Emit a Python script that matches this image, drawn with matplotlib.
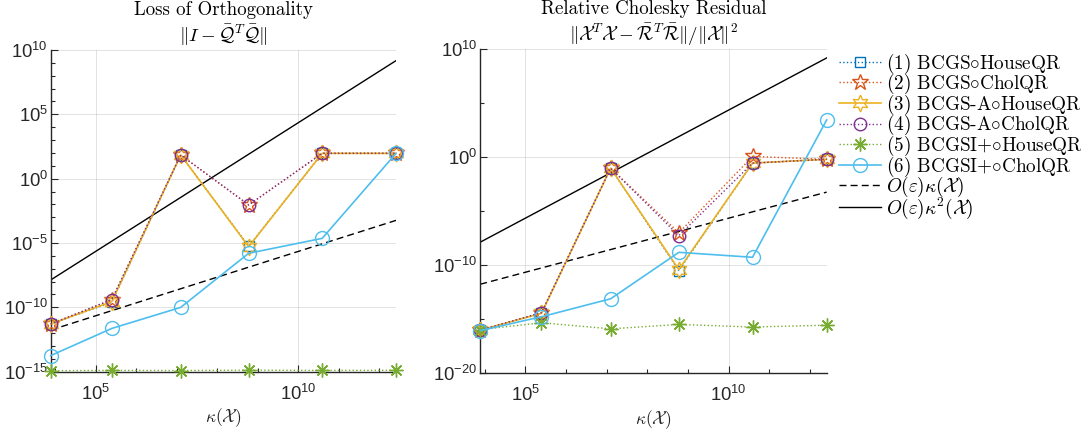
import numpy as np
import matplotlib.pyplot as plt
from matplotlib.ticker import FixedLocator, NullFormatter, LogFormatterSciNotation
from matplotlib.font_manager import FontProperties

plt.rcParams['font.family'] = ['Liberation Sans', 'DejaVu Sans']

# condition numbers of the test matrices
kappa = [7.8e3, 2.5e5, 1.26e7, 6.0e8, 3.9e10, 2.6e12]

# reference slopes O(eps)kappa and O(eps)kappa^2
ref_k1 = [1.73e-12, 5.55e-11, 2.80e-9, 1.33e-7, 8.66e-6, 5.77e-4]
ref_k2 = [1.35e-8, 1.39e-5, 3.52e-2, 79.9, 3.38e5, 1.50e9]

# loss of orthogonality ||I - Q^T Q||
loo = {
    1: [5.1e-12, 2.5e-10, 69, 5.6e-6, 93, 93],
    2: [5.1e-12, 4.0e-10, 69, 9.1e-3, 93, 93],
    3: [5.1e-12, 2.8e-10, 69, 5.2e-6, 93, 93],
    4: [5.1e-12, 4.0e-10, 69, 9.1e-3, 93, 93],
    5: [1.20e-15, 1.26e-15, 1.23e-15, 1.32e-15, 1.26e-15, 1.29e-15],
    6: [1.8e-14, 2.3e-12, 1.0e-10, 1.6e-6, 2.3e-5, 93],
}

# relative Cholesky residual
res = {
    1: [1.0e-16, 3.5e-15, 9.5e-2, 3.2e-11, 0.28, 0.63],
    2: [1.0e-16, 4.0e-15, 9.5e-2, 1.0e-7, 1.15, 0.63],
    3: [1.0e-16, 3.5e-15, 9.5e-2, 4.0e-11, 0.28, 0.63],
    4: [1.0e-16, 4.0e-15, 9.5e-2, 5.4e-8, 0.28, 0.63],
    5: [1.1e-16, 4.7e-16, 1.3e-16, 3.3e-16, 1.9e-16, 2.8e-16],
    6: [8.9e-17, 1.7e-15, 7.8e-14, 1.55e-9, 5.4e-10, 2.75e3],
}

labels = [r'(1) BCGS$\circ$HouseQR', r'(2) BCGS$\circ$CholQR',
          r'(3) BCGS-A$\circ$HouseQR', r'(4) BCGS-A$\circ$CholQR',
          r'(5) BCGSI+$\circ$HouseQR', r'(6) BCGSI+$\circ$CholQR',
          r'$O(\varepsilon)\kappa(\mathcal{X})$', r'$O(\varepsilon)\kappa^2(\mathcal{X})$']

styles = {
    1: dict(color='#0072BD', ls=':', marker='s', ms=7, lw=1.0),
    2: dict(color='#D95319', ls=':', marker='*', ms=12, lw=1.0),
    3: dict(color='#EDB120', ls='-', marker=(6, 1, 0), ms=12, lw=1.2),
    4: dict(color='#7E2F8E', ls=':', marker='o', ms=9, lw=1.0),
    5: dict(color='#77AC30', ls=':', marker=(8, 2, 0), ms=10, lw=1.0),
    6: dict(color='#4DBEEE', ls='-', marker='o', ms=10, lw=1.2),
}

dark = '#262626'


def draw(ax, data, ylim, ymajor, yminor):
    handles = []
    for k in range(1, 7):
        st = styles[k]
        h, = ax.plot(kappa, data[k], linestyle=st['ls'], color=st['color'],
                     marker=st['marker'], markersize=st['ms'], markerfacecolor='none',
                     markeredgecolor=st['color'], markeredgewidth=1.0, linewidth=st['lw'],
                     clip_on=False, zorder=3 + k)
        handles.append(h)
    h, = ax.plot(kappa, ref_k1, 'k--', linewidth=1.0, dashes=(5, 3), zorder=2)
    handles.append(h)
    h, = ax.plot(kappa, ref_k2, 'k-', linewidth=1.0, zorder=2)
    handles.append(h)

    ax.set_xscale('log')
    ax.set_yscale('log')
    ax.set_xlim(kappa[0], kappa[-1])
    ax.set_ylim(*ylim)
    ax.set_xticks([1e5, 1e10])
    ax.xaxis.set_minor_locator(FixedLocator(10.0 ** np.arange(4, 13)))
    ax.set_yticks(ymajor)
    ax.yaxis.set_minor_locator(FixedLocator(yminor))
    ax.xaxis.set_major_formatter(LogFormatterSciNotation())
    ax.yaxis.set_major_formatter(LogFormatterSciNotation())
    ax.xaxis.set_minor_formatter(NullFormatter())
    ax.yaxis.set_minor_formatter(NullFormatter())

    for s in ['top', 'right']:
        ax.spines[s].set_visible(False)
    for s in ['left', 'bottom']:
        ax.spines[s].set_color(dark)
        ax.spines[s].set_linewidth(1.0)
    ax.tick_params(which='both', direction='in', colors=dark, labelsize=13.3)
    ax.tick_params(axis='y', pad=2)
    ax.tick_params(axis='x', pad=8.5)
    ax.tick_params(which='major', length=5, width=0.8)
    ax.tick_params(which='minor', length=3, width=0.8)
    ax.grid(True, which='major', color=dark, alpha=0.15, linewidth=0.6)
    ax.set_axisbelow(True)
    ax.set_xlabel(r'$\kappa(\mathcal{X})$', fontsize=12.5, math_fontfamily='cm',
                  color=dark, labelpad=2)
    return handles


fig = plt.figure(figsize=(10.89, 4.37), dpi=100)
ax1 = fig.add_axes([0.0466, 0.1494, 0.3171, 0.7362])
ax2 = fig.add_axes([0.4410, 0.1458, 0.3181, 0.7420])

draw(ax1, loo, (1e-15, 1e10), 10.0 ** np.arange(-15, 11, 5), 10.0 ** np.arange(-15, 11))
handles = draw(ax2, res, (1e-20, 1e10), 10.0 ** np.arange(-20, 11, 10),
               10.0 ** np.arange(-20, 11, 5))

title_kw = dict(fontsize=13.6, family='cmr10', math_fontfamily='cm', pad=6)
ax1.set_title('Loss of Orthogonality\n' r'$\|I-\bar{\mathcal{Q}}^T\bar{\mathcal{Q}}\|$',
              **title_kw)
ax2.set_title('Relative Cholesky Residual\n'
              r'$\|\mathcal{X}^T\mathcal{X}-\bar{\mathcal{R}}^T\bar{\mathcal{R}}\|/\|\mathcal{X}\|^2$',
              **title_kw)

leg_size = 13.8
leg_px = leg_size * 100 / 72
leg_font = FontProperties(family='cmr10', size=leg_size, math_fontfamily='cm')
fig.legend(handles, labels, loc='upper left', bbox_to_anchor=(839 / 1089, 0.882),
           frameon=False, prop=leg_font, handlelength=42 / leg_px,
           handletextpad=5 / leg_px, labelspacing=-0.185, borderpad=0, borderaxespad=0)

fig.savefig('out.png', dpi=100)
